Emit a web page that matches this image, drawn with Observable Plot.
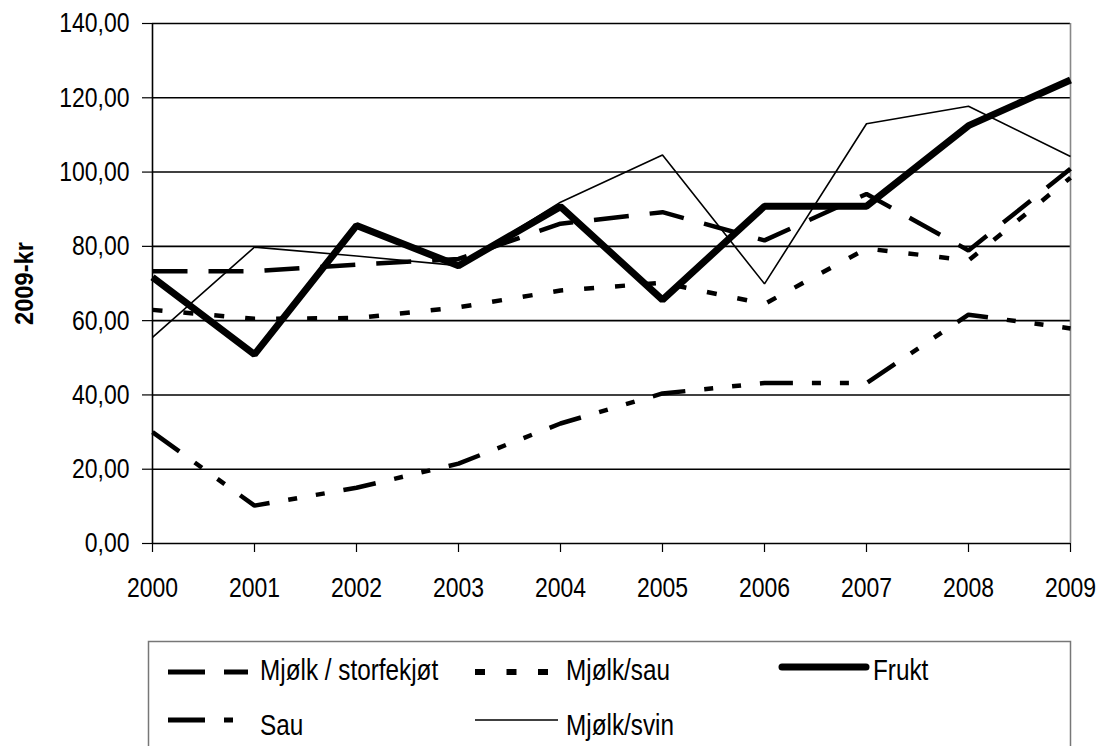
<!DOCTYPE html>
<html><head><meta charset="utf-8">
<script src="https://cdn.jsdelivr.net/npm/d3@7"></script>
<script src="https://cdn.jsdelivr.net/npm/@observablehq/plot@0.6"></script>
<style>
body{margin:0;background:#fff;}
#chart svg,#legend svg{display:block;}
</style></head><body><div id="chart"></div><div id="legend"></div>
<script>
const FONT = '"Liberation Sans Narrow","Liberation Sans",Arial,sans-serif';
const years = [2000,2001,2002,2003,2004,2005,2006,2007,2008,2009];
const storfe   = [73.3,73.3,75.1,76.6,86.1,89.2,81.6,94.1,78.9,100.9];
const mjolkSau = [62.9,60.5,60.7,63.6,68.1,70.2,64.5,79.4,76.2,98.5];
const frukt    = [71.7,50.9,85.6,74.8,90.7,65.6,90.8,90.8,112.5,124.8];
const sau      = [30.0,10.2,15.0,21.5,32.3,40.4,43.2,43.2,61.6,57.9];
const svin     = [55.5,79.8,77.4,74.8,91.9,104.6,69.9,113.0,117.7,104.2];
const yTicks = [0,20,40,60,80,100,120,140];
const seriesNames = ["Mjølk / storfekjøt","Mjølk/sau","Frukt","Sau","Mjølk/svin"];
const yTitle = "2009-kr";

const seriesVals = [storfe, mjolkSau, frukt, sau, svin];
const styles = [
  {strokeWidth:4.5, dash:"35,21"},
  {strokeWidth:4.5, dash:"10,21"},
  {strokeWidth:7, dash:null},
  {strokeWidth:4.5, dash:"33,19,9,19,9,19"},
  {strokeWidth:1.6, dash:null}
];
const rows = (vals) => years.map((y,i)=>({year:y, value:vals[i]}));

// condense text along its reading direction (reference uses a condensed typeface)
function condense(root, sx) {
  root.querySelectorAll("text").forEach(t=>{
    if (t.textContent === yTitle) {
      t.setAttribute("textLength", "83");
      t.setAttribute("lengthAdjust", "spacingAndGlyphs");
      return;
    }
    const L = t.getComputedTextLength();
    if (L > 0) {
      t.setAttribute("textLength", (L*sx).toFixed(2));
      t.setAttribute("lengthAdjust", "spacingAndGlyphs");
    }
  });
}

const W = 1102, H = 630;
const lineMarks = seriesVals.map((vals,k)=>Plot.line(rows(vals), {
  x:"year", y:"value", stroke:"black", strokeWidth:styles[k].strokeWidth,
  strokeDasharray: styles[k].dash || undefined, strokeLinejoin:"miter", strokeLinecap:"butt"
}));

const chart = Plot.plot({
  width: W, height: H,
  marginLeft: 152, marginRight: 32, marginTop: 23, marginBottom: H-543,
  style: {fontFamily: FONT, fontSize: "28px", color:"black", background:"white"},
  x: {domain:[2000,2009]},
  y: {domain:[0,140]},
  marks: [
    Plot.ruleY(yTicks, {stroke:"black", strokeWidth:1.6}),
    Plot.ruleX([2009], {stroke:"#888", strokeWidth:1.6}),
    Plot.ruleX([2000], {stroke:"black", strokeWidth:1.6}),
    Plot.axisY({ticks:yTicks, tickFormat:d=>d.toFixed(2).replace(".",","), tickSize:10, tickPadding:13, label:null, strokeWidth:1.2}),
    Plot.axisX({ticks:years, tickFormat:d=>String(d), tickSize:9, tickPadding:25, label:null, strokeWidth:1.2}),
    ...lineMarks,
    Plot.text([yTitle], {frameAnchor:"left", textAnchor:"middle", dx:-128, rotate:-90, fontWeight:"bold", fontSize:26, fill:"black"})
  ]
});
document.getElementById("chart").appendChild(chart);
condense(chart, 0.82);

// Legend below the chart
const LH = 746 - H;
const lg = d3.select("#legend").append("svg").attr("width", W).attr("height", LH)
  .style("font-family", FONT).style("font-size","30px");
lg.append("rect").attr("x",148.5).attr("y",11.5).attr("width",922).attr("height",200)
  .attr("fill","white").attr("stroke","#777").attr("stroke-width",1.5);
const legendItems = [
  {name:seriesNames[0], x1:168, x2:248, y:42, tx:260, ty:50, w:5, dash:"37,19"},
  {name:seriesNames[1], x1:475, x2:548, y:42, tx:566, ty:50, w:6, dash:"10,21.5"},
  {name:seriesNames[2], x1:782, x2:866, y:37, tx:873, ty:50, w:7, dash:null, cap:"round"},
  {name:seriesNames[3], x1:168, x2:233, y:90, tx:260, ty:105, w:5, dash:"37,19,9,40"},
  {name:seriesNames[4], x1:475, x2:558, y:90, tx:566, ty:105, w:1.6, dash:null}
];
legendItems.forEach(it=>{
  lg.append("line").attr("x1",it.x1).attr("x2",it.x2).attr("y1",it.y).attr("y2",it.y)
    .attr("stroke","black").attr("stroke-width",it.w)
    .attr("stroke-dasharray", it.dash).attr("stroke-linecap", it.cap||"butt");
  lg.append("text").attr("x",it.tx).attr("y",it.ty).text(it.name);
});
condense(lg.node(), 0.81);
</script></body></html>
